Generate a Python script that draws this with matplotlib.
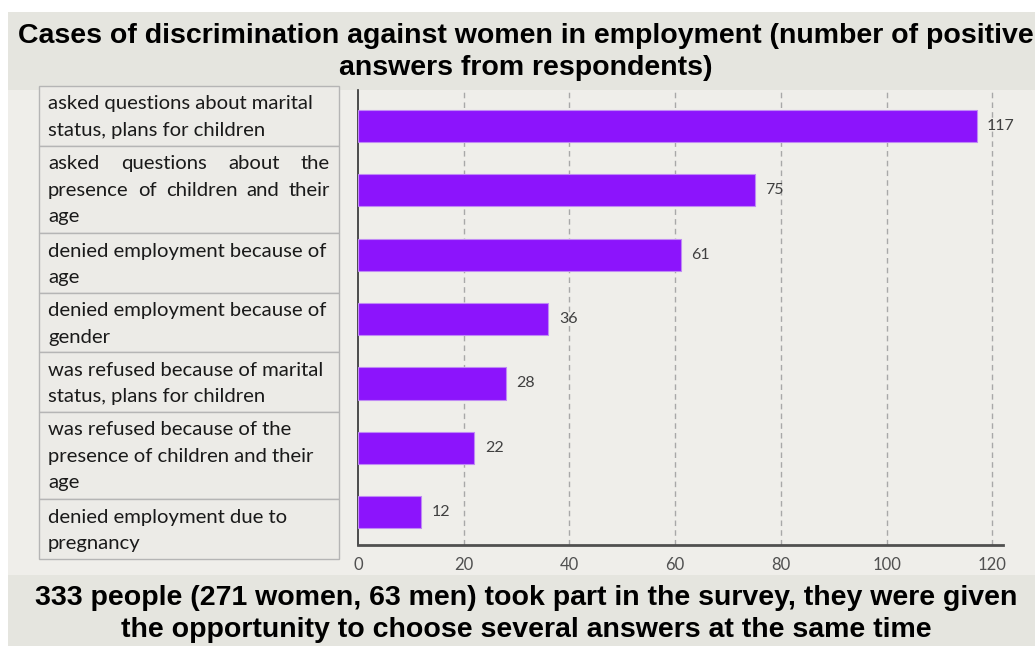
import matplotlib.pyplot as plt
from matplotlib.patches import Rectangle

labels = [
    "asked questions about marital\nstatus, plans for children",
    "asked questions about the\npresence of children and their\nage",
    "denied employment because of\nage",
    "denied employment because of\ngender",
    "was refused because of marital\nstatus, plans for children",
    "was refused because of the\npresence of children and their\nage",
    "denied employment due to\npregnancy",
]
justified = [False, True, False, False, False, False, False]
values = [117, 75, 61, 36, 28, 22, 12]
xticks = [0, 20, 40, 60, 80, 100, 120]

title = "Cases of discrimination against women in employment (number of positive\nanswers from respondents)"
footer = "333 people (271 women, 63 men) took part in the survey, they were given\nthe opportunity to choose several answers at the same time"

W, H = 1035, 646
fig = plt.figure(figsize=(W / 100, H / 100), dpi=100)
fig.patch.set_facecolor("white")
renderer = fig.canvas.get_renderer()

def fx(px):
    return px / W

def fy(py):
    return 1 - py / H

# background panels
fig.add_artist(Rectangle((fx(8), fy(575)), fx(W - 8), (575 - 90) / H,
                         transform=fig.transFigure, facecolor="#efeeea", edgecolor="none", zorder=0))
fig.add_artist(Rectangle((fx(8), fy(90)), fx(W - 8), (90 - 12) / H,
                         transform=fig.transFigure, facecolor="#e5e5df", edgecolor="none", zorder=0))
fig.add_artist(Rectangle((fx(8), fy(H)), fx(W - 8), (H - 575) / H,
                         transform=fig.transFigure, facecolor="#e5e5df", edgecolor="none", zorder=0))

bold_font = ["Liberation Sans", "DejaVu Sans"]
fig.text(fx(526), fy(52), title, ha="center", va="center", fontsize=20.5, fontweight="bold",
         family=bold_font, linespacing=1.3, color="black")
fig.text(fx(526), fy(614), footer, ha="center", va="center", fontsize=20.5, fontweight="bold",
         family=bold_font, linespacing=1.28, color="black")

# bar chart
ax = fig.add_axes([fx(358), fy(545), fx(1003 - 358), (545 - 90) / H])
ax.set_facecolor("none")
pos = list(range(len(values)))
ax.barh(pos, values, height=0.5, color="#8c14fc", edgecolor="#c08af5", linewidth=0.8, zorder=3)
for p, v in zip(pos, values):
    ax.text(v + 2, p, str(v), va="center", ha="left", fontsize=11.5, family="Lato", color="#404040")
ax.set_xlim(0, 122)
ax.set_ylim(6.51, -0.56)
ax.set_xticks(xticks)
ax.set_yticks([])
ax.tick_params(axis="x", length=0, labelsize=12, labelcolor="#505050", pad=9)
for lab in ax.get_xticklabels():
    lab.set_family("Lato")
for t in xticks[1:]:
    ax.axvline(t, color="#a8a8a8", linestyle=(0, (4, 3)), linewidth=1, zorder=1)
for s in ["top", "right"]:
    ax.spines[s].set_visible(False)
ax.spines["left"].set_color("#303030")
ax.spines["left"].set_linewidth(1.2)
ax.spines["bottom"].set_color("#505050")
ax.spines["bottom"].set_linewidth(2)

# label table on the left
label_kw = dict(fontsize=14.6, family="Lato", color="#1a1a1a", zorder=2)
line_h = 26.5
nlines = [lab.count("\n") + 1 for lab in labels]
heights = [27.5 * n + 4 for n in nlines]
scale = (559 - 86) / sum(heights)
top = 86
for lab, just, h in zip(labels, justified, heights):
    h = h * scale
    fig.add_artist(Rectangle((fx(39), fy(top + h)), fx(339 - 39), h / H,
                             transform=fig.transFigure, facecolor="#ecebe7",
                             edgecolor="#b5b5b5", linewidth=1, zorder=1))
    lines = lab.split("\n")
    for i, line in enumerate(lines):
        yc = top + 18 + i * line_h
        if just and i < len(lines) - 1:
            # spread words over the full cell width
            words = line.split(" ")
            widths = []
            for w in words:
                t = fig.text(0, 0, w, **label_kw)
                widths.append(t.get_window_extent(renderer).width)
                t.remove()
            gap = (330 - 48 - sum(widths)) / (len(words) - 1)
            x = 48
            for w, wd in zip(words, widths):
                fig.text(fx(x), fy(yc), w, ha="left", va="center", **label_kw)
                x += wd + gap
        else:
            fig.text(fx(48), fy(yc), line, ha="left", va="center", **label_kw)
    top += h

fig.savefig("out.png", dpi=100)
